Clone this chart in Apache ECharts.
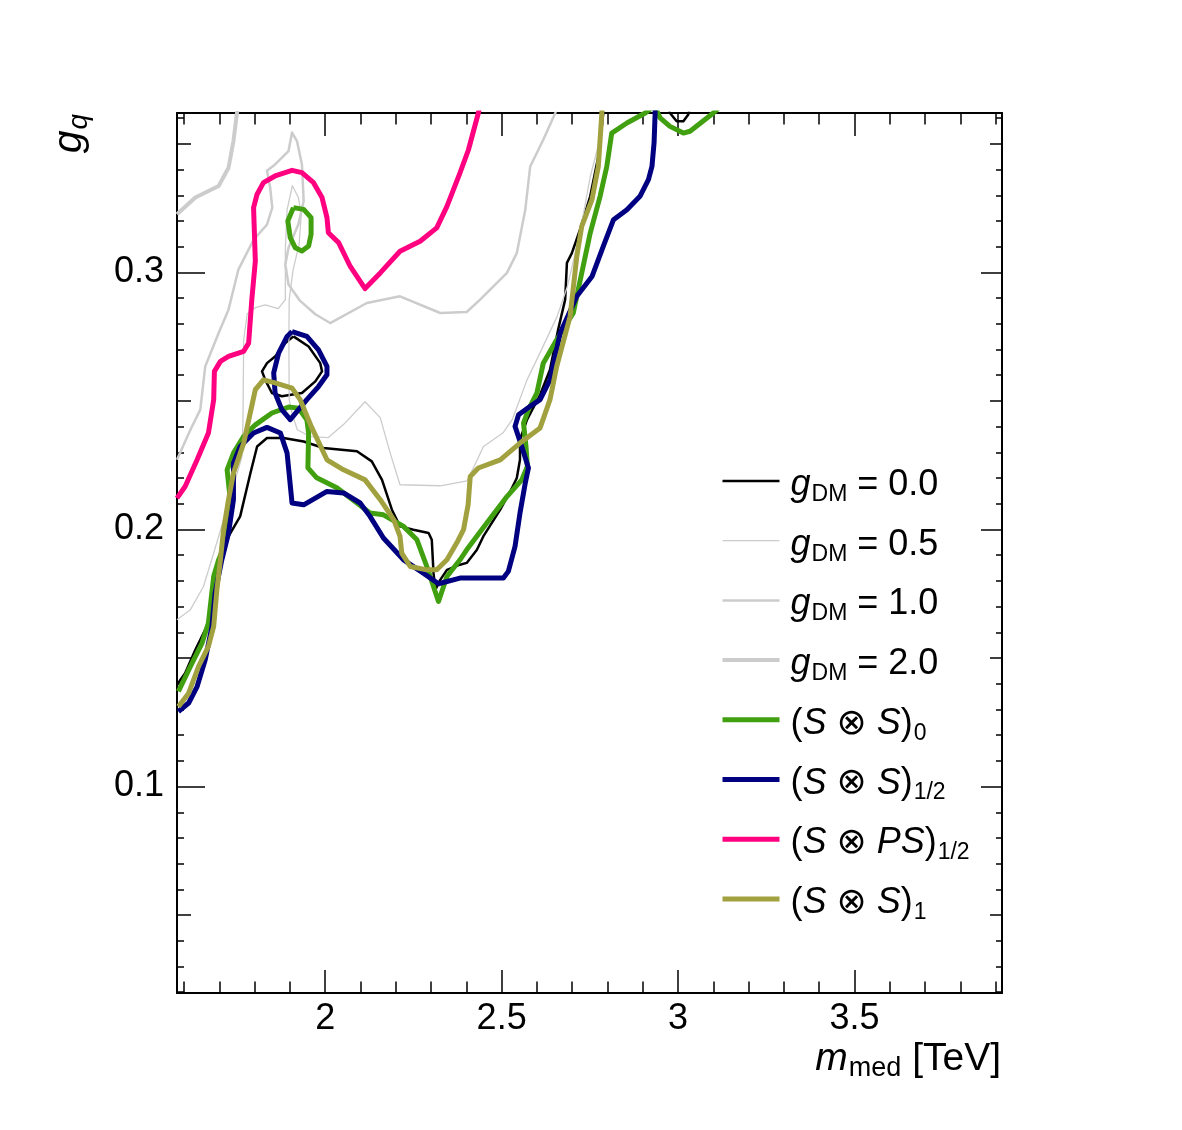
<!DOCTYPE html>
<html lang="en">
<head>
<meta charset="UTF-8">
<title>g_q vs m_med contours</title>
<script src="https://cdn.jsdelivr.net/npm/echarts@6/dist/echarts.min.js"></script>
<style>
  html, body { margin: 0; padding: 0; background: #ffffff; }
  #chart { width: 1182px; height: 1130px; }
</style>
</head>
<body>
<div id="chart"></div>
<script>
  // axis ranges (TeV on x, coupling on y)
  const xRange = [1.58, 3.918];
  const yRange = [0.0197, 0.362];

  // tick positions and labels
  const xMajorTicks = [2, 2.5, 3, 3.5];
  const xMinorTicks = [1.6, 1.7, 1.8, 1.9, 2.1, 2.2, 2.3, 2.4, 2.6, 2.7, 2.8, 2.9, 3.1, 3.2, 3.3, 3.4, 3.6, 3.7, 3.8, 3.9];
  const yMajorTicks = [0.1, 0.2, 0.3];
  const yMidTicks = [0.05, 0.15, 0.25, 0.35];
  const yMinorTicks = [0.02, 0.03, 0.04, 0.06, 0.07, 0.08, 0.09, 0.11, 0.12, 0.13, 0.14, 0.16, 0.17, 0.18, 0.19,
    0.21, 0.22, 0.23, 0.24, 0.26, 0.27, 0.28, 0.29, 0.31, 0.32, 0.33, 0.34, 0.36];

  // contour lines, points are [m_med, g_q]
  const gdm00Main = [[1.580,0.1396],[1.603,0.1441],[1.632,0.1532],[1.646,0.1571],[1.669,0.1636],[1.684,0.1778],[1.703,0.1895],
    [1.726,0.1973],[1.759,0.2051],[1.788,0.2219],[1.807,0.2323],[1.835,0.2356],[1.882,0.2356],[1.939,0.2342],[1.995,0.2317],
    [2.090,0.2304],[2.132,0.2265],[2.161,0.2193],[2.189,0.2077],[2.212,0.2012],[2.250,0.1999],[2.293,0.1986],[2.302,0.1960],
    [2.307,0.1830],[2.312,0.1765],[2.326,0.1804],[2.345,0.1843],[2.382,0.1863],[2.401,0.1870],[2.430,0.1921],[2.448,0.1973],
    [2.496,0.2077],[2.524,0.2147],[2.543,0.2200],[2.552,0.2271],[2.552,0.2349],[2.572,0.2427],[2.609,0.2524],[2.637,0.2621],
    [2.660,0.2777],[2.680,0.2894],[2.685,0.3037],[2.699,0.3075],[2.722,0.3166],[2.751,0.3296],[2.774,0.3451],[2.784,0.3568],
    [2.788,0.3620],[2.790,0.3649]];
  const gdm00Island = [[1.910,0.2751],[1.953,0.2712],[1.986,0.2647],[1.991,0.2615],[1.972,0.2576],[1.934,0.2531],[1.877,0.2518],
    [1.849,0.2531],[1.830,0.2582],[1.821,0.2615],[1.835,0.2647],[1.858,0.2673],[1.887,0.2725],[1.910,0.2751]];
  const gdm00Top = [[2.972,0.3645],[2.977,0.3620],[2.996,0.3588],[3.015,0.3588],[3.029,0.3614],[3.034,0.3645]];

  const gdm05 = [[1.580,0.1649],[1.618,0.1688],[1.655,0.1778],[1.684,0.1908],[1.712,0.2038],[1.740,0.2167],[1.764,0.2284],
    [1.767,0.2427],[1.769,0.2738],[1.779,0.2839],[1.802,0.2863],[1.830,0.2874],[1.867,0.2859],[1.887,0.2894],[1.887,0.3088],
    [1.892,0.3244],[1.907,0.3337],[1.924,0.3291],[1.932,0.3225],[1.926,0.3108],[1.909,0.3011],[1.898,0.2894],[1.897,0.2738],
    [1.898,0.2505],[1.907,0.2446],[1.921,0.2388],[1.958,0.2361],[2.008,0.2357],[2.051,0.2407],[2.113,0.2497],[2.156,0.2435],
    [2.184,0.2298],[2.212,0.2174],[2.326,0.2170],[2.402,0.2189],[2.431,0.2271],[2.448,0.2322],[2.504,0.2376],[2.530,0.2427],
    [2.572,0.2582],[2.609,0.2688],[2.657,0.2828],[2.686,0.2944],[2.722,0.3154],[2.751,0.3372],[2.771,0.3477],[2.788,0.3621],
    [2.790,0.3649]];

  const gdm10 = [[1.580,0.2271],[1.618,0.2388],[1.646,0.2466],[1.660,0.2634],[1.698,0.2764],[1.726,0.2855],[1.754,0.3011],
    [1.797,0.3127],[1.835,0.3186],[1.850,0.3252],[1.844,0.3330],[1.835,0.3395],[1.858,0.3420],[1.896,0.3472],[1.906,0.3544],
    [1.920,0.3511],[1.934,0.3420],[1.939,0.3278],[1.924,0.3187],[1.896,0.3096],[1.887,0.3031],[1.896,0.2953],[1.929,0.2889],
    [1.972,0.2837],[2.014,0.2803],[2.118,0.2881],[2.212,0.2907],[2.326,0.2842],[2.401,0.2846],[2.439,0.2894],[2.515,0.2998],
    [2.543,0.3075],[2.567,0.3244],[2.581,0.3412],[2.618,0.3516],[2.652,0.3620],[2.660,0.3649]];

  const gdm20 = [[1.580,0.3226],[1.632,0.3291],[1.698,0.3336],[1.726,0.3407],[1.740,0.3511],[1.750,0.3621],[1.754,0.3649]];

  const ss0Main = [[1.584,0.1370],[1.618,0.1467],[1.651,0.1558],[1.669,0.1636],[1.684,0.1817],[1.698,0.1882],[1.717,0.1947],
    [1.726,0.2038],[1.731,0.2116],[1.722,0.2232],[1.740,0.2297],[1.769,0.2362],[1.802,0.2407],[1.849,0.2453],[1.896,0.2476],
    [1.924,0.2472],[1.948,0.2427],[1.953,0.2375],[1.951,0.2240],[1.976,0.2201],[2.033,0.2162],[2.090,0.2103],[2.127,0.2064],
    [2.165,0.2057],[2.222,0.2012],[2.260,0.1960],[2.288,0.1856],[2.321,0.1720],[2.345,0.1817],[2.382,0.1882],[2.401,0.1921],
    [2.458,0.2025],[2.515,0.2128],[2.557,0.2193],[2.573,0.2245],[2.569,0.2323],[2.562,0.2414],[2.576,0.2466],[2.600,0.2531],
    [2.618,0.2647],[2.656,0.2738],[2.703,0.2842],[2.727,0.2998],[2.751,0.3153],[2.779,0.3296],[2.798,0.3412],[2.812,0.3542],
    [2.855,0.3581],[2.907,0.3620],[2.926,0.3641]];
  const ss0Right = [[2.935,0.3641],[2.949,0.3601],[2.977,0.3568],[3.015,0.3542],[3.034,0.3549],[3.100,0.3620],[3.113,0.3637]];
  const ss0Island = [[1.910,0.3252],[1.939,0.3245],[1.960,0.3213],[1.960,0.3148],[1.953,0.3103],[1.934,0.3083],[1.915,0.3096],
    [1.901,0.3135],[1.894,0.3200],[1.910,0.3252]];

  const ssHalfMain = [[1.584,0.1292],[1.613,0.1325],[1.637,0.1389],[1.660,0.1493],[1.679,0.1623],[1.688,0.1753],[1.707,0.1882],
    [1.726,0.1986],[1.740,0.2116],[1.740,0.2258],[1.759,0.2323],[1.797,0.2375],[1.835,0.2397],[1.873,0.2375],[1.892,0.2297],
    [1.906,0.2103],[1.939,0.2096],[2.005,0.2148],[2.052,0.2142],[2.099,0.2103],[2.127,0.2051],[2.165,0.1967],[2.222,0.1882],
    [2.278,0.1830],[2.321,0.1789],[2.382,0.1811],[2.505,0.1811],[2.519,0.1837],[2.538,0.1934],[2.552,0.2064],[2.567,0.2181],
    [2.576,0.2239],[2.557,0.2323],[2.538,0.2401],[2.548,0.2446],[2.581,0.2479],[2.609,0.2505],[2.637,0.2582],[2.666,0.2764],
    [2.713,0.2907],[2.756,0.2984],[2.788,0.3101],[2.817,0.3205],[2.855,0.3244],[2.892,0.3296],[2.916,0.3361],[2.926,0.3412],
    [2.932,0.3504],[2.935,0.3620],[2.935,0.3649]];
  const ssHalfIsland = [[1.906,0.2770],[1.948,0.2751],[1.981,0.2699],[2.005,0.2634],[2.005,0.2602],[1.981,0.2556],[1.948,0.2505],
    [1.901,0.2427],[1.877,0.2466],[1.858,0.2531],[1.854,0.2609],[1.868,0.2686],[1.892,0.2751],[1.906,0.2770]];

  const spsHalf = [[1.580,0.2122],[1.603,0.2167],[1.637,0.2271],[1.669,0.2375],[1.684,0.2505],[1.686,0.2615],[1.703,0.2654],
    [1.726,0.2673],[1.769,0.2693],[1.783,0.2725],[1.792,0.2894],[1.802,0.3044],[1.797,0.3252],[1.807,0.3304],[1.825,0.3349],
    [1.858,0.3375],[1.906,0.3397],[1.934,0.3388],[1.967,0.3349],[1.991,0.3291],[2.005,0.3213],[2.009,0.3154],[2.038,0.3116],
    [2.071,0.3023],[2.113,0.2937],[2.156,0.2998],[2.212,0.3082],[2.269,0.3121],[2.316,0.3173],[2.345,0.3257],[2.382,0.3387],
    [2.406,0.3477],[2.434,0.3620],[2.439,0.3649]];

  const ss1 = [[1.584,0.1311],[1.613,0.1363],[1.641,0.1467],[1.669,0.1545],[1.684,0.1623],[1.693,0.1765],[1.703,0.1882],
    [1.712,0.1999],[1.726,0.2116],[1.740,0.2219],[1.769,0.2336],[1.802,0.2544],[1.825,0.2582],[1.858,0.2570],[1.906,0.2550],
    [1.929,0.2505],[1.962,0.2396],[2.005,0.2271],[2.052,0.2232],[2.113,0.2193],[2.156,0.2116],[2.194,0.2038],[2.212,0.1973],
    [2.217,0.1908],[2.241,0.1856],[2.288,0.1843],[2.316,0.1843],[2.345,0.1882],[2.373,0.1948],[2.392,0.1999],[2.405,0.2096],
    [2.411,0.2206],[2.434,0.2239],[2.496,0.2271],[2.552,0.2336],[2.609,0.2395],[2.637,0.2505],[2.656,0.2634],[2.694,0.2829],
    [2.713,0.3062],[2.727,0.3179],[2.756,0.3283],[2.774,0.3412],[2.784,0.3620],[2.785,0.3649]];

  // legend entries in ROOT-like notation
  const legendLabels = {
    'gDM = 0.0': '{i|g}{s|DM}{n| = 0.0}',
    'gDM = 0.5': '{i|g}{s|DM}{n| = 0.5}',
    'gDM = 1.0': '{i|g}{s|DM}{n| = 1.0}',
    'gDM = 2.0': '{i|g}{s|DM}{n| = 2.0}',
    '(S x S)0': '{n|(}{i|S}{n| \u2297 }{i|S}{n|)}{s|0}',
    '(S x S)1/2': '{n|(}{i|S}{n| \u2297 }{i|S}{n|)}{s|1/2}',
    '(S x PS)1/2': '{n|(}{i|S}{n| \u2297 }{i|PS}{n|)}{s|1/2}',
    '(S x S)1': '{n|(}{i|S}{n| \u2297 }{i|S}{n|)}{s|1}'
  };

  const FONT = "'Liberation Sans', 'DejaVu Sans', Arial, sans-serif";

  // join several line pieces into one series, null breaks the line
  function pieces(...parts) {
    const out = [];
    parts.forEach((p, i) => {
      if (i > 0) out.push(null);
      p.forEach(pt => out.push(pt));
    });
    return out;
  }

  function contour(name, data, color, width) {
    return {
      name: name,
      type: 'line',
      data: data,
      xAxisIndex: 0,
      yAxisIndex: 0,
      symbol: 'none',
      showSymbol: false,
      connectNulls: false,
      clip: true,
      silent: true,
      lineStyle: { color: color, width: width, join: 'round' },
      itemStyle: { color: color },
      emphasis: { disabled: true }
    };
  }

  // an axis that only draws one level of ticks (ROOT has three)
  function tickAxis(kind, pos, ticks, len, opts) {
    opts = opts || {};
    const range = kind === 'x' ? xRange : yRange;
    return {
      type: 'value',
      position: pos,
      min: range[0],
      max: range[1],
      axisLine: { show: !!opts.line, onZero: false, lineStyle: { color: '#000', width: 2 } },
      axisTick: { show: true, inside: true, length: len, customValues: ticks, lineStyle: { color: '#000', width: 1.5 } },
      axisLabel: opts.labels ? {
        show: true,
        customValues: ticks,
        formatter: v => String(v),
        color: '#000',
        fontSize: 36,
        fontFamily: FONT,
        margin: opts.margin,
        padding: opts.pad || 0
      } : { show: false },
      splitLine: { show: false }
    };
  }

  const chart = echarts.init(document.getElementById('chart'), null, { renderer: 'canvas' });

  const option = {
    backgroundColor: '#ffffff',
    animation: false,
    grid: { left: 177, right: 180, top: 113, bottom: 137, containLabel: false },
    xAxis: [
      tickAxis('x', 'bottom', xMajorTicks, 23, { line: true, labels: true, margin: 8 }),
      tickAxis('x', 'bottom', xMinorTicks, 11.5),
      tickAxis('x', 'top', xMajorTicks, 23, { line: true }),
      tickAxis('x', 'top', xMinorTicks, 11.5)
    ],
    yAxis: [
      tickAxis('y', 'left', yMajorTicks, 28, { line: true, labels: true, margin: 13, pad: [5, 0, 0, 0] }),
      tickAxis('y', 'left', yMidTicks, 14),
      tickAxis('y', 'left', yMinorTicks, 7),
      tickAxis('y', 'right', yMajorTicks, 21, { line: true }),
      tickAxis('y', 'right', yMidTicks, 12),
      tickAxis('y', 'right', yMinorTicks, 6)
    ],
    legend: {
      orient: 'vertical',
      left: 720,
      top: 456,
      padding: 0,
      itemWidth: 57,
      itemHeight: 20,
      itemGap: 9.7,
      selectedMode: false,
      data: Object.keys(legendLabels),
      formatter: name => legendLabels[name],
      itemStyle: { opacity: 0 },
      lineStyle: { width: 'inherit' },
      textStyle: {
        color: '#000',
        fontFamily: FONT,
        fontSize: 36,
        padding: [0, 0, 0, 6],
        rich: {
          n: { fontSize: 36, lineHeight: 44, fontFamily: FONT, color: '#000', padding: [8, 0, 0, 0] },
          i: { fontSize: 36, lineHeight: 44, fontFamily: FONT, fontStyle: 'italic', color: '#000', padding: [8, 0, 0, 0] },
          s: { fontSize: 23, lineHeight: 23, fontFamily: FONT, color: '#000', padding: [27, 0, 0, 1] }
        }
      }
    },
    graphic: [
      {
        type: 'text',
        x: 1001,
        y: 1059,
        silent: true,
        style: {
          text: '{i|m}{s|med}{n| [TeV]}',
          align: 'right',
          verticalAlign: 'middle',
          fill: '#000',
          rich: {
            n: { fontSize: 39, lineHeight: 48, fontFamily: FONT, fill: '#000' },
            i: { fontSize: 39, lineHeight: 48, fontFamily: FONT, fontStyle: 'italic', fill: '#000' },
            s: { fontSize: 27, lineHeight: 27, fontFamily: FONT, fill: '#000', padding: [19, 0, 0, 1] }
          }
        }
      },
      {
        type: 'text',
        x: 70,
        y: 114,
        rotation: Math.PI / 2,
        silent: true,
        style: {
          text: '{i|g}{s|q}',
          align: 'right',
          verticalAlign: 'middle',
          fill: '#000',
          rich: {
            i: { fontSize: 41, lineHeight: 48, fontFamily: FONT, fontStyle: 'italic', fill: '#000' },
            s: { fontSize: 28, lineHeight: 28, fontFamily: FONT, fontStyle: 'italic', fill: '#000', padding: [18, 0, 0, 1] }
          }
        }
      }
    ],
    series: [
      contour('gDM = 0.0', pieces(gdm00Main, gdm00Island, gdm00Top), '#000000', 2.5),
      contour('gDM = 0.5', gdm05, '#cccccc', 1.3),
      contour('gDM = 1.0', gdm10, '#cccccc', 2.5),
      contour('gDM = 2.0', gdm20, '#cccccc', 4),
      contour('(S x S)0', pieces(ss0Main, ss0Right, ss0Island), '#41a010', 5),
      contour('(S x S)1/2', pieces(ssHalfMain, ssHalfIsland), '#000080', 5),
      contour('(S x PS)1/2', spsHalf, '#ff0080', 5),
      contour('(S x S)1', ss1, '#a2a13f', 5)
    ]
  };

  chart.setOption(option);
</script>
</body>
</html>
